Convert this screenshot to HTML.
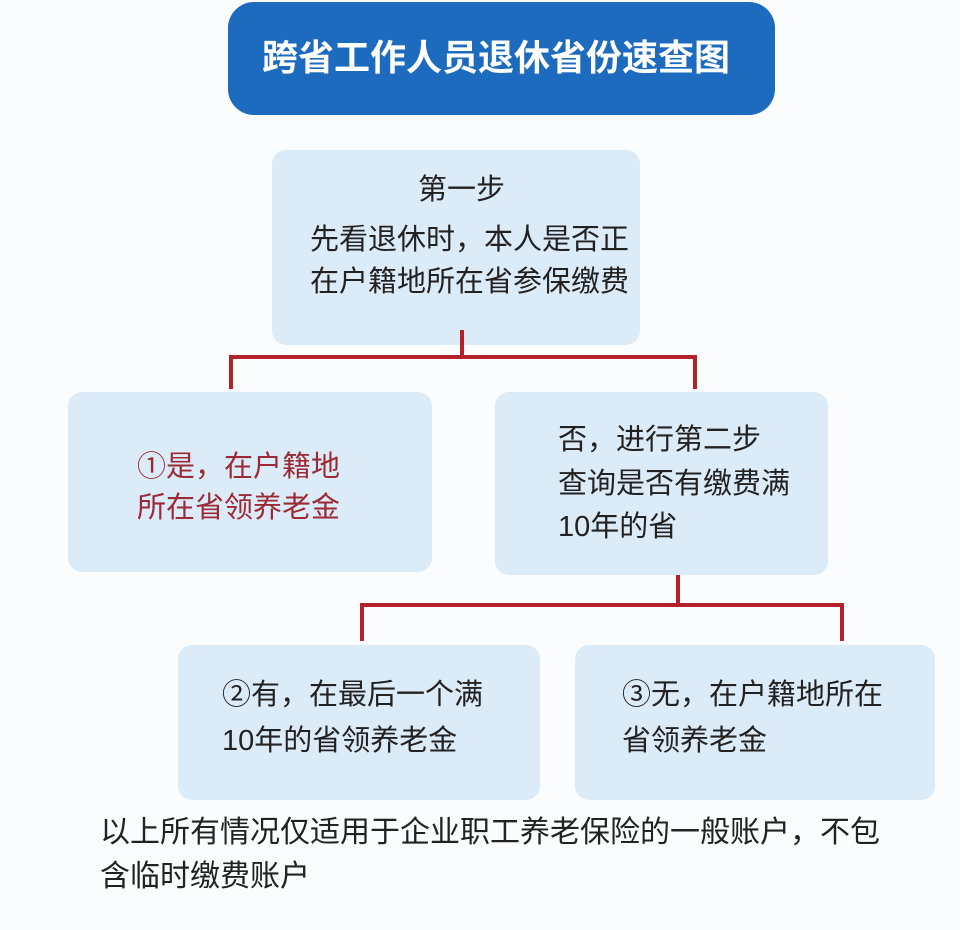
<!DOCTYPE html>
<html><head><meta charset="utf-8"><style>
body{margin:0;width:960px;height:930px;background:#fafcfe;position:relative;overflow:hidden;font-family:"Liberation Sans","Noto Sans CJK SC",sans-serif;}
.b{position:absolute;background:#dcebf8;border-radius:14px;}
.t{position:absolute;font-size:29px;color:#222;white-space:nowrap;line-height:1;}
.l{position:absolute;background:#b3212b;}
</style></head><body>
<div style="position:absolute;left:228px;top:2px;width:547px;height:113px;background:#1d6bbf;border-radius:26px;"></div>
<div class="t" style="left:262px;top:40px;font-size:36px;font-weight:bold;color:#fff;">跨省工作人员退休省份速查图</div>

<div class="b" style="left:272px;top:150px;width:368px;height:195px;"></div>
<div class="t" style="left:418px;top:176px;">第一步</div>
<div class="t" style="left:310px;top:226px;">先看退休时，本人是否正</div>
<div class="t" style="left:310px;top:268px;">在户籍地所在省参保缴费</div>

<div class="l" style="left:460px;top:330px;width:4px;height:28px;"></div>
<div class="l" style="left:229px;top:355px;width:468px;height:4px;"></div>
<div class="l" style="left:229px;top:355px;width:4px;height:34px;"></div>
<div class="l" style="left:693px;top:355px;width:4px;height:34px;"></div>

<div class="b" style="left:68px;top:392px;width:364px;height:180px;"></div>
<div class="t" style="left:137px;top:453px;color:#9c2a36;">①是，在户籍地</div>
<div class="t" style="left:137px;top:494px;color:#9c2a36;">所在省领养老金</div>

<div class="b" style="left:495px;top:392px;width:333px;height:183px;"></div>
<div class="t" style="left:558px;top:426px;">否，进行第二步</div>
<div class="t" style="left:558px;top:470px;">查询是否有缴费满</div>
<div class="t" style="left:558px;top:513px;">10年的省</div>

<div class="l" style="left:676px;top:575px;width:4px;height:30px;"></div>
<div class="l" style="left:360px;top:603px;width:484px;height:4px;"></div>
<div class="l" style="left:360px;top:603px;width:4px;height:38px;"></div>
<div class="l" style="left:840px;top:603px;width:4px;height:38px;"></div>

<div class="b" style="left:178px;top:645px;width:362px;height:155px;"></div>
<div class="t" style="left:222px;top:681px;">②有，在最后一个满</div>
<div class="t" style="left:222px;top:727px;">10年的省领养老金</div>

<div class="b" style="left:575px;top:645px;width:360px;height:155px;"></div>
<div class="t" style="left:622px;top:681px;">③无，在户籍地所在</div>
<div class="t" style="left:622px;top:727px;">省领养老金</div>

<div class="t" style="left:100px;top:818px;font-size:30px;">以上所有情况仅适用于企业职工养老保险的一般账户，不包</div>
<div class="t" style="left:100px;top:862px;font-size:30px;">含临时缴费账户</div>
</body></html>
